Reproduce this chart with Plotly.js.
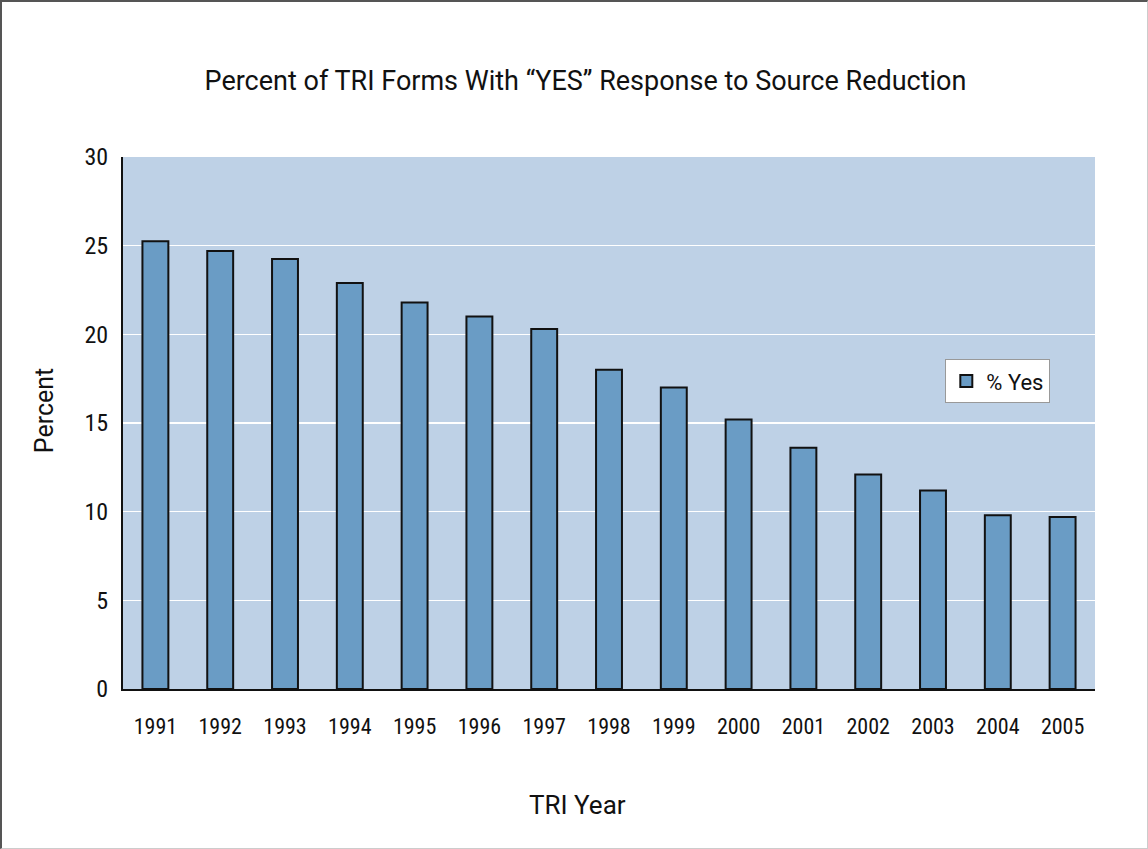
<!DOCTYPE html>
<html><head><meta charset="utf-8">
<script src="https://cdn.plot.ly/plotly-3.0.1.min.js"></script>
<style>
html,body{margin:0;padding:0;background:#fff;}
#wrap{position:absolute;left:0;top:0;width:1148px;height:849px;box-sizing:border-box;border-top:2px solid #555;border-left:2px solid #555;border-right:1px solid #ccc;border-bottom:1px solid #ccc;}
#chart{position:absolute;left:-2px;top:-2px;width:1148px;height:849px;}
</style></head>
<body><div id="wrap"><div id="chart"></div></div>
<script>
const years = ['1991','1992','1993','1994','1995','1996','1997','1998','1999','2000','2001','2002','2003','2004','2005'];
const pctYes = [25.25, 24.7, 24.25, 22.9, 21.8, 21.0, 20.3, 18.0, 17.0, 15.2, 13.6, 12.1, 11.2, 9.8, 9.7];
const yTicks = [0,5,10,15,20,25,30];
const seriesName = '% Yes';
const chartTitle = 'Percent of TRI Forms With \u201cYES\u201d Response to Source Reduction';
const xTitle = 'TRI Year';
const yTitle = 'Percent';
const NARROW = '"Liberation Sans Narrow", "Roboto Condensed", "Arial Narrow", sans-serif';
const TEXT = 'Roboto, "Liberation Sans", sans-serif';

const trace = {
  type: 'bar', x: years, y: pctYes, name: seriesName,
  marker: {color: '#6a9cc5', line: {color: '#111', width: 2}},
  showlegend: true
};
const layout = {
  width: 1148, height: 849,
  margin: {l: 123, r: 53, t: 157, b: 160},
  paper_bgcolor: 'rgba(0,0,0,0)', plot_bgcolor: '#bed1e6',
  font: {family: TEXT, color: '#111'},
  title: {text: chartTitle,
          font: {family: TEXT, size: 27, color: '#111'}, x: 0.51, xanchor: 'center', y: 0.905, yanchor: 'middle'},
  bargap: 0.6,
  xaxis: {type: 'category', showline: true, linecolor: '#111', linewidth: 2, ticks: '', showgrid: false,
          tickfont: {family: NARROW, size: 22}, ticklabelstandoff: 17},
  yaxis: {range: [0, 30], tickvals: yTicks, showline: true, linecolor: '#111', linewidth: 2, ticks: '',
          gridcolor: '#ffffff', gridwidth: 1.5, zeroline: false, tickfont: {family: NARROW, size: 24}, ticklabelstandoff: 8},
  annotations: [
    {text: xTitle, xref: 'paper', yref: 'paper', x: 0.468, y: -0.218, xanchor: 'center', yanchor: 'middle',
     showarrow: false, font: {family: TEXT, size: 26, color: '#111'}},
    {text: yTitle, xref: 'paper', yref: 'paper', x: -0.080, y: 0.5226, xanchor: 'center', yanchor: 'middle',
     textangle: -90, showarrow: false, font: {family: TEXT, size: 25, color: '#111'}}
  ],
  legend: {x: 0.846, y: 0.62, xanchor: 'left', yanchor: 'top', bgcolor: '#ffffff', bordercolor: '#999', borderwidth: 1,
           font: {family: TEXT, size: 22}, itemwidth: 30},
  showlegend: true
};
Plotly.newPlot('chart', [trace], layout, {displayModeBar: false, staticPlot: true});
</script></body></html>
